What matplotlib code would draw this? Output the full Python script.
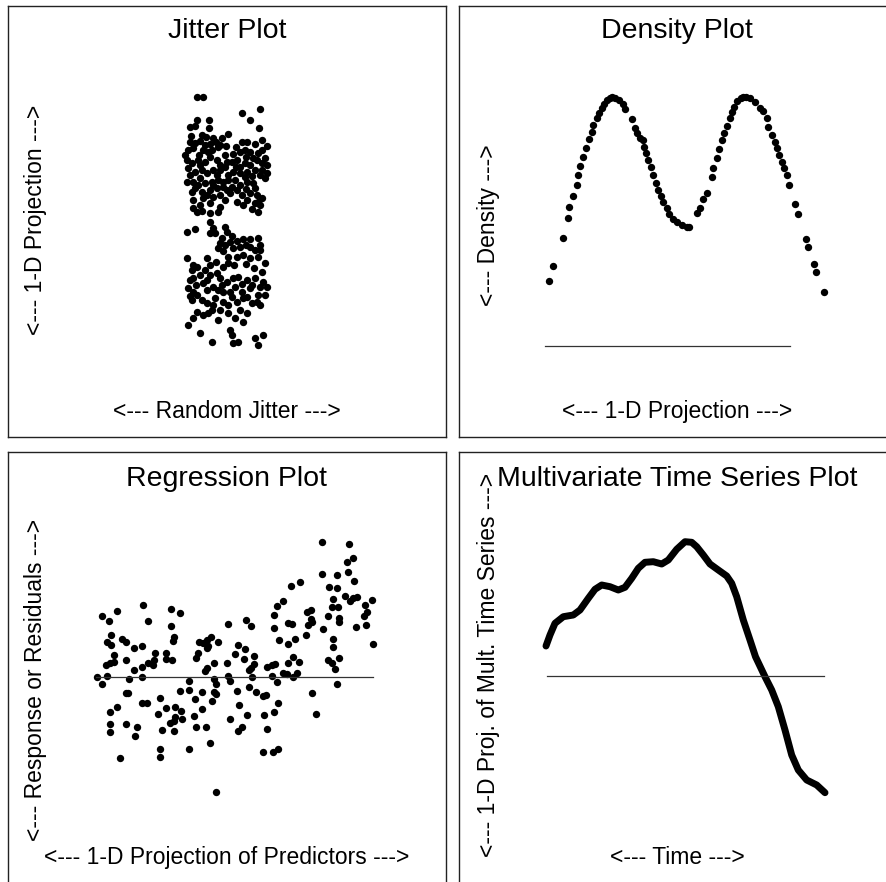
import matplotlib
matplotlib.use("Agg")
import matplotlib.pyplot as plt

W, H = 886, 882

# ---------------- data (screen-unit readings) ----------------
jitter_points = [
    (197,97),(203,97),(242,113),(260,109),(250,120),(259,128),(197,120),(209,120),(190,127),(195,126),
    (209,128),(202,135),(213,138),(222,138),(228,134),(190,142),(195,143),(200,141),(205,145),(210,144),
    (220,145),(242,142),(247,142),(255,144),(267,146),(188,150),(193,148),(203,150),(212,150),(218,147),
    (240,152),(250,152),(258,153),(262,150),(187,160),(192,163),(198,160),(205,162),(210,157),(217,160),
    (220,165),(227,162),(232,162),(237,160),(240,167),(245,163),(250,165),(257,160),(265,158),(267,165),
    (188,168),(195,172),(202,170),(207,173),(213,170),(220,170),(225,167),(233,172),(240,173),(247,172),
    (255,170),(260,175),(267,173),(187,182),(193,182),(200,178),(205,183),(212,182),(218,180),(223,182),
    (228,180),(235,180),(240,185),(247,182),(253,183),(265,178),(195,188),(202,192),(207,195),(213,185),
    (217,188),(223,187),(232,187),(242,195),(250,193),(257,195),(262,198),(258,202),(193,200),(203,198),
    (210,203),(220,195),(230,193),(237,202),(255,203),(260,205),(193,208),(197,212),(202,211),(210,213),
    (218,212),(220,207),(252,209),(258,212),
    (191,136),(206,137),(216,142),(226,146),(236,147),(245,150),(262,140),(185,155),(199,155),(208,152),
    (225,155),(233,154),(246,157),(253,158),(262,163),(190,175),(200,165),(217,175),(228,175),(236,167),
    (245,177),(252,176),(262,170),(192,192),(198,185),(210,190),(227,190),(237,190),(246,189),(255,188),
    (213,197),(247,200),(200,205),(225,200),(243,205),
    (210,222),(213,228),(225,227),(227,232),(210,233),(195,229),(187,232),(222,238),(220,243),(225,245),
    (230,242),(237,241),(243,239),(250,239),(258,238),(260,245),(218,248),(223,251),(233,248),(240,247),
    (250,247),(260,250),(187,258),(193,265),(197,267),(207,258),(210,265),(228,257),(237,257),(243,255),
    (250,258),(258,257),(265,263),(228,263),(223,267),(190,280),(193,278),(200,275),(203,283),(210,275),
    (217,273),(220,278),(227,282),(233,278),(238,277),(247,280),(255,278),(263,282),(267,287),(188,288),
    (193,292),(197,295),(207,290),(213,287),(218,290),(223,292),(230,292),(235,287),(242,292),(250,288),
    (258,295),(260,287),(192,300),(202,300),(207,303),(213,305),(223,302),(228,305),(237,302),(243,298),
    (252,303),(260,305),(197,312),(203,315),(208,313),(220,310),(228,313),(235,318),(247,313),(188,325),
    (200,333),(212,342),(230,330),(232,335),(233,343),(238,342),(255,338),(263,335),(258,345),
    (215,233),(232,236),(246,245),(255,250),(192,270),(205,270),(216,262),(234,265),(246,264),(254,268),
    (262,272),(196,285),(207,280),(222,285),(242,284),(252,285),(265,295),(190,296),(215,298),(232,297),
    (247,297),(257,302),(212,310),(240,310),(193,318),(218,320),(243,322),
]
jitter_vals = [p[0] for p in jitter_points]
projection_vals = [p[1] for p in jitter_points]

density_proj = [549.3,553.3,562.7,568.3,569.3,572.7,576.7,577.7,580,583.3,585.7,589.3,591.7,593.3,
                596.7,599,601.7,604,606.7,610,612.5,615,619.3,622.7,625,631.7,635,637.3,640,642.7,
                644,646,648.3,650.7,653.3,656,658.3,661,663.3,666.7,669.3,672.7,676.7,681.7,686.7,
                689.3,696.7,700,702.7,706.7,712.3,713.3,716.7,719,721.7,724,726.7,730,732.3,734.3,
                737.3,740.7,743,746,750,755,760,763.3,766.7,768.3,771.7,775,777.3,779.3,781.7,784,
                786.7,789.3,795,798.3,806,808.3,814.3,816,824]
density_vals = [281,266,238.3,217.7,206.7,195.7,185,175,165.7,156.7,148.3,139,131.7,125,
                118.3,113.3,108.3,104.3,100,97.7,97,97.7,100,104.3,109,119.3,127.7,133.3,138.3,140,
                146.7,153.3,160,167.3,175,183.3,190,196,202.3,208.3,214.3,219,222.3,225,226.7,
                226.7,212.7,207.7,199,192.7,176.7,167.7,157.7,149,140,133.3,125.7,118.3,111.7,106.7,
                101,97.7,97,96.7,98.3,102.3,107.7,111,118.3,126.7,135,141.7,148.3,155,161.7,168.3,
                175,185,204.3,214.3,239,247.3,264,272.3,292.3]
density_baseline = 346
density_base_range = (545, 790)

regression_points = [
    (96.7,677),(101.7,684),(101.7,615.7),(109,621.3),(117,611),(143.3,605),(147.7,621.3),(170.7,609.3),
    (180,613.3),(170.7,626),(174.3,636.7),(173.3,640.7),(111,635),(106.7,641.7),(111,645),(121.7,639.3),
    (125.7,641.7),(114.3,655),(105.7,665),(110,663.3),(114.3,662.3),(106.7,675.7),(125.7,660),(134.3,648.3),
    (142.3,646),(134.3,670),(142.3,666.7),(142.3,677),(129.3,679.3),(148.3,663.3),(153.3,665),(154.3,660),
    (155,652.7),(165.7,653.3),(165.7,659.3),(172.3,660),(125.7,692.7),(127.7,693.3),(117.3,707.3),(110,711.7),
    (141.7,702.7),(147.3,702.7),(157.7,714),(160,697.7),(165.7,707.7),(175,706.7),(181,710.7),(175,716.7),
    (170,722.7),(174.3,720.7),(181.7,719.3),(162.3,730),(174.3,731.3),(110,724),(110,731.7),(125.7,724),
    (136.7,726.7),(135,735.7),(120,757.7),(160,749.3),(160,757),(189.3,749.3),(210,743.3),(216,792.3),
    (180,691),(189,690),(189.3,680.7),(195,698.7),(194.3,715.7),(201.7,709),(196,726.7),(206,726.7),
    (202.3,691.7),(211.7,701),(214.3,691.7),(216,694),(214,679.3),(216,684),(205,671),(206.7,668.3),
    (214.3,663.3),(195.7,658.3),(198.3,652.7),(199,641.7),(203.3,643.3),(206.7,640),(206.7,648.3),(211,636.7),
    (208.3,646),(218.3,641.7),(228.3,624),(226.7,663.3),(227.7,676),(230,681),(230,718.7),(235,654),
    (236.7,691),(246,620),(250.7,625.7),(238.3,645),(245,649.3),(244,659),(254,655.7),(254,664.3),
    (250.7,668.3),(249.3,670),(251.7,676.7),(249,687.3),(256,692),(262.7,696),(265.7,694.7),(239,705),
    (247.3,715),(238.3,731),(241.7,726.7),(264,715),(266.7,729),(274.3,711.7),(278.3,702.7),(262.7,752),
    (272.7,752.3),(278.3,749),(266.7,666.7),(271.7,665),(275,664),(271.7,675.7),(277.3,681.7),(283.3,672.7),
    (287.3,674),(292.7,676.7),(296.7,672.7),(288.3,662.7),(293.3,656.7),(299.3,661.7),(279.3,640),(288.3,644.3),
    (295.3,639),(274,628),(274,615),(276.7,606),(282.7,601),(288.3,623.3),(291.7,624),(291,586),
    (300,582.3),(306,634.7),(308.3,625),(310.7,619.3),(311.7,621.7),(307.3,611.7),(310.7,610),(312.3,693.3),
    (316,714),(321.7,542.3),(321.7,574),(322.7,628.7),(329,586.7),(332.7,599.3),(331.7,607.3),(337.3,575),
    (337.3,587.7),(337.7,606.7),(328.3,615.7),(339,618.3),(339,621.7),(332.7,639.3),(332.7,646.7),(328.3,660),
    (331.7,662.7),(335,669),(339,657.7),(336.7,684.3),(349,544.3),(346.7,561.7),(353.3,558.3),(347.7,571.7),
    (354.3,580.7),(345,595.7),(350,600.7),(353.3,598.3),(356.7,596.7),(355.7,626.7),(365,605),(371.7,600),
    (366.7,611.7),(364,616),(366,625),(372.7,644.3),
]
predictor_vals = [p[0] for p in regression_points]
response_vals = [p[1] for p in regression_points]
regression_baseline = 677
regression_base_range = (96, 373)

ts_time = [546,550,555,563.3,573.3,580,588.3,595,601.7,610,618.3,625,631.7,638.3,645,653.3,661.7,
           668.3,676.7,685,691.7,696.7,703.3,710,718.3,726.7,731.7,736.7,743.3,750,755.5,765,771.7,
           778.3,785,791.7,798.3,806.7,816.7,825]
ts_proj = [646,635,623.3,616.7,615,610,598.3,589.3,585,586.7,590,587.3,578.3,568.3,562.3,561.7,564,
           560,549.3,541.7,542.3,546.7,555,564,570,576,583.3,596.7,620,640,656.7,676.7,690,
           706.7,730,755,770,780,785,792.7]
ts_baseline = 676
ts_base_range = (546.7, 824.3)

titles = ["Jitter Plot", "Density Plot", "Regression Plot", "Multivariate Time Series Plot"]
xlabels = ["<--- Random Jitter --->", "<--- 1-D Projection --->",
           "<--- 1-D Projection of Predictors --->", "<--- Time --->"]
ylabels = ["<--- 1-D Projection --->", "<--- Density --->",
           "<--- Response or Residuals --->", "<--- 1-D Proj. of Mult. Time Series --->"]

# ---------------- layout ----------------
plt.rcParams['font.family'] = ['Liberation Sans', 'DejaVu Sans']
fig = plt.figure(figsize=(W / 100, H / 100), dpi=100)

# panel boxes in screen units: (left, top, right, bottom)
boxes = [(8, 6, 446, 437), (459, 6, 898, 437), (8, 452, 446, 884), (459, 452, 898, 884)]
title_y = [31, 31, 479, 479]
xlabel_y = [412, 412, 858, 858]
ylabel_pos = [(36, 220), (489, 225), (36, 680), (489, 665)]

axes = []
for (l, t, r, b) in boxes:
    ax = fig.add_axes([l / W, 1 - b / H, (r - l) / W, (b - t) / H])
    ax.set_xlim(l, r)
    ax.set_ylim(b, t)
    ax.set_xticks([])
    ax.set_yticks([])
    for s in ax.spines.values():
        s.set_color('#222222')
        s.set_linewidth(1.0)
    axes.append(ax)

for i, ax in enumerate(axes):
    l, t, r, b = boxes[i]
    cx = (l + r) / 2 if i % 2 == 0 else 677
    ax.text(cx, title_y[i], titles[i], ha='center', va='center', fontsize=20.5, color='black')
    ax.text(cx, xlabel_y[i], xlabels[i], ha='center', va='center', fontsize=16.5, color='black')
    ax.text(ylabel_pos[i][0], ylabel_pos[i][1], ylabels[i], ha='center', va='center',
            rotation=90, fontsize=16.5, color='black')

ms = 5.3
# Jitter plot
axes[0].plot(jitter_vals, projection_vals, 'o', color='black', markersize=ms, markeredgewidth=0)
# Density plot
axes[1].plot(density_proj, density_vals, 'o', color='black', markersize=ms, markeredgewidth=0)
axes[1].plot(density_base_range, [density_baseline] * 2, color='#333333', linewidth=0.9)
# Regression plot
axes[2].plot(predictor_vals, response_vals, 'o', color='black', markersize=ms, markeredgewidth=0)
axes[2].plot(regression_base_range, [regression_baseline] * 2, color='#333333', linewidth=0.9)
# Time series
axes[3].plot(ts_time, ts_proj, '-', color='black', linewidth=5, solid_capstyle='round',
             solid_joinstyle='round')
axes[3].plot(ts_base_range, [ts_baseline] * 2, color='#333333', linewidth=0.9)

fig.savefig("out.png", dpi=100)
